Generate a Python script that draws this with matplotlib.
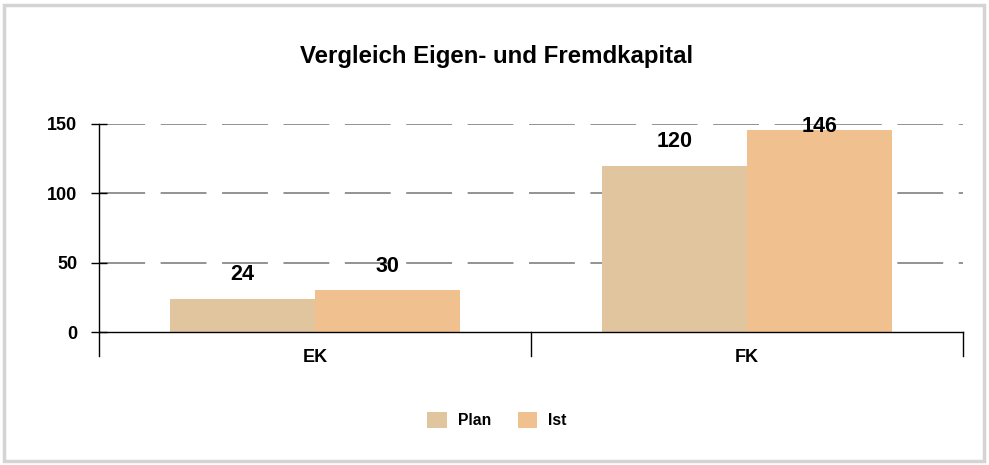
import numpy as np
import matplotlib.pyplot as plt
from matplotlib.patches import Rectangle, Patch

categories = ["EK", "FK"]
plan = [24, 120]
ist = [30, 146]
series_names = ["Plan", "Ist"]
colors = ['#E0C59F', '#F0C08E']
yticks = [0, 50, 100, 150]

plt.rcParams['font.family'] = ['Liberation Sans', 'DejaVu Sans']
plt.rcParams['lines.scale_dashes'] = False

fig = plt.figure(figsize=(9.89, 4.65), dpi=100)
ax = fig.add_axes([99 / 989, (465 - 332) / 465, (963 - 99) / 989, 208 / 465])

# gray frame round the whole chart
fig.patches.append(Rectangle((4 / 989, 4 / 465), 980 / 989, 456 / 465, transform=fig.transFigure,
                             fill=False, edgecolor='#D4D4D4', linewidth=2.5))

x = np.arange(len(categories))
width = 0.335
ax.bar(x - width / 2, plan, width=width, color=colors[0], zorder=3, linewidth=0)
ax.bar(x + width / 2, ist, width=width, color=colors[1], zorder=3, linewidth=0)

# value labels (kept inside the plot top like the original)
for xi, v in zip(x - width / 2, plan):
    ax.text(xi, min(v + 17.5, 148.5), str(v), ha='center', va='center', fontsize=15.5, fontweight='bold', zorder=5)
for xi, v in zip(x + width / 2, ist):
    ax.text(xi, min(v + 17.5, 148.5), str(v), ha='center', va='center', fontsize=15.5, fontweight='bold', zorder=5)

ax.set_xlim(-0.5, 1.5)
ax.set_ylim(0, 150)
ax.set_yticks(yticks)
# dashed grid lines (skip zero, the axis line is there); start a bit left, clipped at the axis
ax.hlines(yticks[1:], -0.02, 1, transform=ax.get_yaxis_transform(), colors='#808080', linewidth=1.2,
          linestyles=[(31.75, (33, 11.2))], zorder=1)
ax.tick_params(axis='y', direction='inout', length=11.5, width=1, labelsize=13, pad=10)
for lab in ax.get_yticklabels():
    lab.set_fontweight('bold')

ax.set_xticks(x, categories)
ax.tick_params(axis='x', length=0, labelsize=13, pad=12)
for lab in ax.get_xticklabels():
    lab.set_fontweight('bold')

for s in ['top', 'right', 'left']:
    ax.spines[s].set_visible(False)
ax.spines['bottom'].set_linewidth(1)
ax.spines['bottom'].set_zorder(6)

# axis line and category separators reaching below zero
tr = ax.get_xaxis_transform()
for xs in [-0.5, 0.5, 1.5]:
    top = 1 if xs == -0.5 else 0
    ax.plot([xs, xs], [top, -0.115], color='black', linewidth=1, transform=tr, clip_on=False, zorder=6)

fig.text(0.502, 1 - 56 / 465, "Vergleich Eigen- und Fremdkapital", ha='center', va='center',
         fontsize=17.3, fontweight='bold')

handles = [Patch(facecolor=c, edgecolor='none') for c in colors]
leg = fig.legend(handles, series_names, loc='center', bbox_to_anchor=(497 / 989, 1 - 420 / 465), ncol=2,
                 frameon=False, fontsize=11.3, handlelength=1.25, handleheight=1.25, columnspacing=1.7,
                 handletextpad=0.7)
for t in leg.get_texts():
    t.set_fontweight('bold')

fig.savefig("out.png", dpi=100)
